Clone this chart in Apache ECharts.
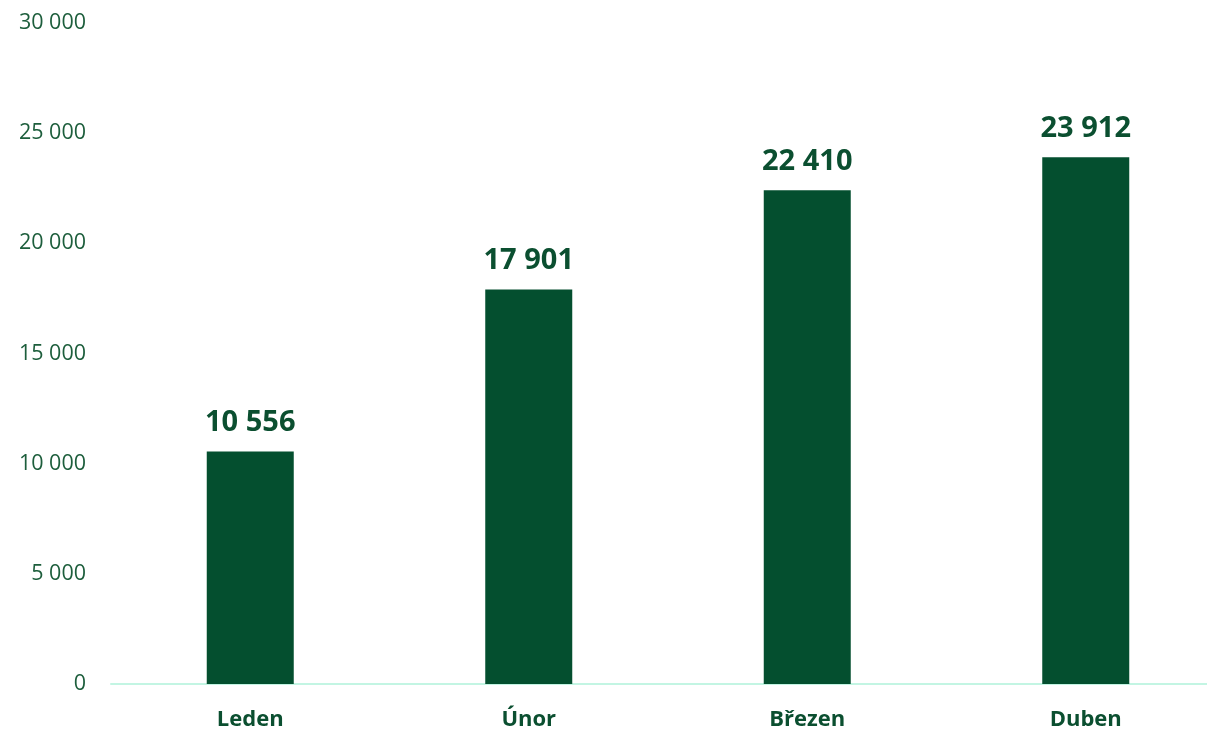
<!DOCTYPE html>
<html><head><meta charset="utf-8">
<script src="https://cdn.jsdelivr.net/npm/echarts@6/dist/echarts.min.js"></script>
<style>html,body{margin:0;padding:0;background:#fff;overflow:hidden}#c{width:1225px;height:731px}</style>
</head><body><div id="c"></div>
<script>
const categories = ['Leden', 'Únor', 'Březen', 'Duben'];
const values = [10556, 17901, 22410, 23912];
const yMin = 0, yMax = 30000, yStep = 5000;

function fmt(v){ return String(Math.round(v)).replace(/\B(?=(\d{3})+(?!\d))/g, ' '); }

const chart = echarts.init(document.getElementById('c'));
chart.setOption({
  animation: false,
  grid: { left: 111, right: 0, top: 23, bottom: 46, containLabel: false },
  xAxis: {
    type: 'category', data: categories,
    axisLine: { show: true, lineStyle: { color: '#c3f5e3', width: 2 } },
    axisTick: { show: false },
    axisLabel: { color: '#0b4f30', fontFamily: 'Open Sans', fontWeight: 'bold', fontSize: 22, margin: 25 }
  },
  yAxis: {
    type: 'value', min: yMin, max: yMax, interval: yStep,
    splitLine: { show: false }, axisLine: { show: false }, axisTick: { show: false },
    axisLabel: { color: '#1d5e3c', fontFamily: 'Open Sans', fontSize: 21.5, margin: 25, formatter: fmt }
  },
  series: [{
    type: 'bar', data: values, barWidth: 87,
    itemStyle: { color: '#044f2f' },
    label: { show: true, position: 'top', distance: 14, color: '#0b4f30', fontFamily: 'Open Sans', fontWeight: 'bold', fontSize: 29, formatter: p => fmt(p.value) }
  }]
});
</script></body></html>
